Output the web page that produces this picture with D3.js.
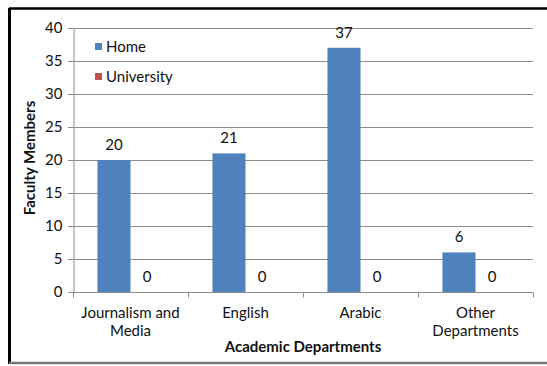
<!DOCTYPE html>
<html><head><meta charset="utf-8">
<script src="https://d3js.org/d3.v7.min.js"></script>
<style>body{margin:0;background:#fff}svg{display:block}text{font-family:Lato,"Open Sans",sans-serif}</style>
</head><body><svg id="c" width="547" height="366"></svg>
<script>
const categories = ["Journalism and Media", "English", "Arabic", "Other Departments"];
const categoryLines = [["Journalism and", "Media"], ["English"], ["Arabic"], ["Other", "Departments"]];
const seriesNames = ["Home", "University"];
const homeValues = [20, 21, 37, 6];
const universityValues = [0, 0, 0, 0];
const yTicks = [0, 5, 10, 15, 20, 25, 30, 35, 40];
const colors = ["#4f81bd", "#c0504d"];

(function () {
const svg = d3.select("#c");
const pL = 73, pR = 533, pT = 28, pB = 292;
const fs = 15;
const x = d3.scaleBand().domain(categories).range([pL, pR]);
const xs = d3.scaleBand().domain(seriesNames).range([0, x.bandwidth()]).paddingInner(0).paddingOuter(0.74);
const y = d3.scaleLinear().domain([0, 40]).range([pB, pT]);

// frame
svg.append("line").attr("x1", 9).attr("x2", 547).attr("y1", 8.5).attr("y2", 8.5).attr("stroke", "#000").attr("stroke-width", 2.5);
svg.append("line").attr("x1", 9.5).attr("x2", 9.5).attr("y1", 8).attr("y2", 364).attr("stroke", "#000").attr("stroke-width", 3);
svg.append("line").attr("x1", 9).attr("x2", 547).attr("y1", 363).attr("y2", 363).attr("stroke", "#777").attr("stroke-width", 2.5);

// gridlines
svg.append("g").selectAll("line").data(yTicks.filter(d => d > 0)).join("line")
  .attr("x1", pL - 5).attr("x2", pR).attr("y1", d => Math.round(y(d)) + 0.5).attr("y2", d => Math.round(y(d)) + 0.5)
  .attr("stroke", "#8c8c8c").attr("stroke-width", 1);

// y axis
const yAxis = svg.append("g").attr("transform", `translate(${pL + 0.5},0)`)
  .call(d3.axisLeft(y).tickValues(yTicks).tickSize(5).tickPadding(6));
yAxis.select(".domain").attr("stroke", "#8c8c8c");
yAxis.selectAll(".tick line").attr("stroke", "#8c8c8c");
yAxis.selectAll("text").attr("font-size", fs).attr("fill", "#111").attr("font-family", "Lato,sans-serif");

// bars
const data = categories.map((c, i) => ({c, vals: [homeValues[i], universityValues[i]]}));
const g = svg.append("g");
data.forEach(d => {
  d.vals.forEach((v, j) => {
    const bx = x(d.c) + xs(seriesNames[j]);
    if (v > 0) g.append("rect").attr("x", bx).attr("y", y(v)).attr("width", xs.bandwidth()).attr("height", y(0) - y(v)).attr("fill", colors[j]);
    g.append("text").attr("x", bx + xs.bandwidth() / 2).attr("y", y(v) - 10)
      .attr("text-anchor", "middle").attr("font-size", fs).attr("fill", "#111").text(v);
  });
});

// x axis
const xAxis = svg.append("g").attr("transform", `translate(0,${pB + 0.5})`);
xAxis.append("line").attr("x1", pL).attr("x2", pR).attr("stroke", "#8c8c8c");
xAxis.selectAll(".tk").data(categories.map(c => x(c)).concat([pR])).join("line")
  .attr("x1", d => Math.round(d) + 0.5).attr("x2", d => Math.round(d) + 0.5).attr("y1", 0).attr("y2", 5).attr("stroke", "#8c8c8c");
categories.forEach((c, i) => {
  const t = svg.append("text").attr("text-anchor", "middle").attr("font-size", fs).attr("fill", "#111")
    .attr("x", x(c) + x.bandwidth() / 2).attr("y", 318);
  categoryLines[i].forEach((ln, k) => t.append("tspan").attr("x", x(c) + x.bandwidth() / 2).attr("dy", k ? 18 : 0).text(ln));
});

// axis titles
svg.append("text").attr("x", 303).attr("y", 352).attr("text-anchor", "middle").attr("font-size", fs).attr("font-weight", "bold").attr("fill", "#111").text("Academic Departments");
svg.append("text").attr("transform", "translate(35,158) rotate(-90)").attr("text-anchor", "middle").attr("font-size", fs).attr("font-weight", "bold").attr("fill", "#111").text("Faculty Members");

// legend
const lg = svg.append("g");
seriesNames.forEach((s, i) => {
  lg.append("rect").attr("x", 95).attr("y", 43 + i * 30).attr("width", 7).attr("height", 7).attr("fill", colors[i]);
  lg.append("text").attr("x", 106).attr("y", 52 + i * 30).attr("font-size", fs).attr("fill", "#111").text(s);
});
})();
</script></body></html>
